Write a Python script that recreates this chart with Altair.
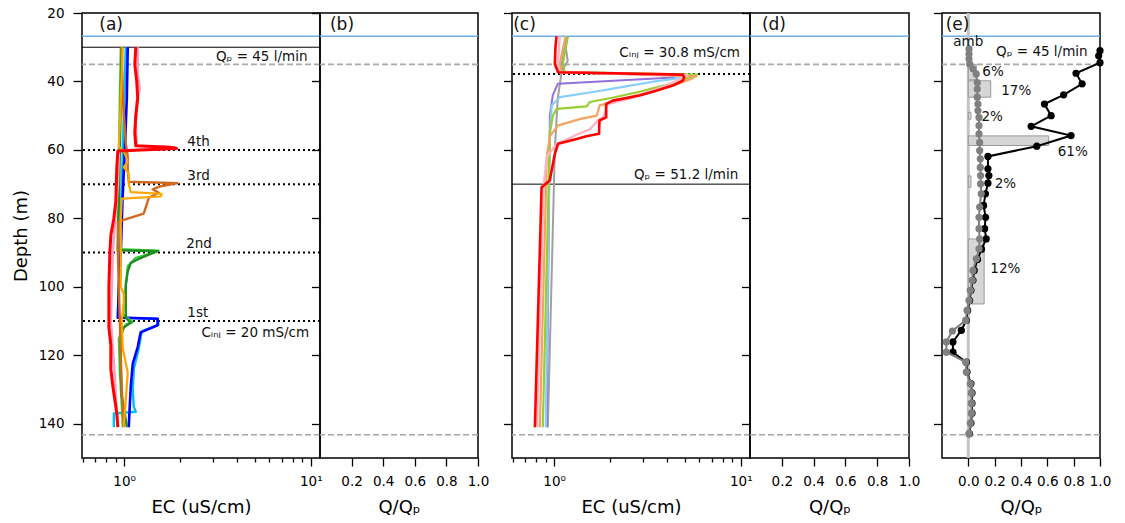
import altair as alt
import pandas as pd

FONT = "DejaVu Sans"

# ---------------- axis ticks ----------------
depth_ticks = [20, 40, 60, 80, 100, 120, 140]
ec_ticks = [0.6, 0.7, 0.8, 0.9, 1, 2, 3, 4, 5, 6, 7, 8, 9, 10]
q_ticks_bd = [0.2, 0.4, 0.6, 0.8, 1.0]
q_ticks_e = [0.0, 0.2, 0.4, 0.6, 0.8, 1.0]

# ---------------- reference depths (m) ----------------
water_table = [26.8]
casing_depths = [35.0, 143.2]
pump_depth_a = [30.0]
pump_depth_c = [70.0]
inj_depths_a = [60, 70, 90, 110]
inj_depth_c = [37.8]

# ---------------- panel (a) EC profiles ----------------
a_dsb_depth = [30, 60, 90, 109, 109.3, 111, 113, 118, 124, 130, 135, 136.5, 137, 141]
a_dsb_ec = [1.021, 0.984, 0.949, 0.926, 1.512, 1.531, 1.243, 1.198, 1.127, 1.113, 1.127, 1.155, 0.881, 0.881]

a_blue_depth = [30, 45, 60, 75, 90, 100, 109, 109.3, 111.2, 113.3, 117.6, 122.4, 129, 135, 141]
a_blue_ec = [1.046, 1.034, 1.009, 0.980, 0.960, 0.937, 0.926, 1.512, 1.512, 1.227, 1.183, 1.113, 1.086, 1.072, 1.059]

a_lime_depth = [30, 60, 89, 89.4, 90.3, 91.5, 94, 100, 108, 110.3, 111, 115, 125, 135, 141]
a_lime_ec = [0.960, 0.937, 0.926, 1.531, 1.388, 1.155, 1.046, 1.021, 0.984, 1.113, 1.021, 0.937, 0.949, 0.972, 0.984]

a_green_depth = [30, 60, 75, 89.3, 89.6, 90.6, 92, 93, 95.5, 99.4, 109, 110.5, 112, 116, 125, 132, 137, 141]
a_green_ec = [0.972, 0.949, 0.937, 0.926, 1.512, 1.355, 1.183, 1.086, 1.046, 1.021, 1.021, 1.086, 0.984, 0.960, 0.960, 0.972, 1.009, 1.034]

a_choc_depth = [30, 45, 58, 62, 66, 69.3, 69.7, 70.6, 71.5, 72.5, 74, 75, 78.6, 80.1, 81, 90, 100, 110, 120, 130, 141]
a_choc_ec = [0.972, 0.984, 1.021, 1.046, 1.046, 1.059, 1.934, 1.570, 1.423, 1.531, 1.355, 1.338, 1.273, 1.046, 0.926, 0.926, 0.937, 0.949, 0.960, 0.972, 0.996]

a_orange_depth = [30, 45, 59, 61, 63.5, 65, 67, 70, 72.3, 72.8, 73.6, 74.2, 80, 90, 100, 102, 105, 110, 118, 125, 133, 141]
a_orange_ec = [0.984, 0.960, 0.937, 1.009, 1.046, 0.996, 1.059, 1.059, 1.086, 1.589, 1.570, 0.972, 0.960, 0.960, 0.960, 0.996, 0.996, 0.972, 0.984, 1.046, 1.021, 0.996]

a_pink_depth = [30, 38, 42, 46, 52, 58.8, 59.3, 60.3, 70, 90, 110, 118, 122, 126, 132, 141]
a_pink_ec = [1.183, 1.183, 1.213, 1.169, 1.155, 1.169, 1.82, 0.937, 0.926, 0.870, 0.849, 0.870, 0.881, 0.892, 0.903, 0.926]

a_red_depth = [30, 35, 40, 45, 50, 55, 58.8, 59.2, 59.6, 60.3, 65, 75, 80, 85, 90, 100, 112, 117, 124, 129, 133, 137, 141]
a_red_ec = [1.155, 1.141, 1.169, 1.183, 1.155, 1.141, 1.155, 1.775, 1.91, 0.926, 0.914, 0.903, 0.881, 0.849, 0.839, 0.829, 0.829, 0.849, 0.849, 0.870, 0.892, 0.914, 0.926]

# ---------------- panel (c) EC profiles ----------------
c_gray_depth = [26.8, 30, 34, 37, 45, 60, 141]
c_gray_ec = [1.183, 1.154, 1.183, 1.099, 1.046, 1.009, 0.926]

c_purple_depth = [26.8, 34.9, 37.3, 38.2, 38.9, 40.7, 44, 50, 141]
c_purple_ec = [1.169, 1.086, 1.113, 4.86, 4.14, 1.046, 0.984, 0.949, 0.914]

c_sky_depth = [26.8, 34.9, 37.3, 38.3, 39, 40, 41.5, 43, 44.6, 47, 55, 141]
c_sky_ec = [1.154, 1.073, 1.099, 5.05, 4.69, 3.447, 2.384, 1.649, 1.073, 0.972, 0.949, 0.903]

c_ygreen_depth = [26.8, 34.9, 37.3, 38.0, 38.8, 40.2, 41.5, 43, 44.6, 46, 47.3, 48, 50, 55, 141]
c_ygreen_ec = [1.183, 1.113, 1.141, 5.85, 5.30, 4.69, 3.665, 2.867, 2.108, 1.551, 1.495, 1.034, 0.984, 0.949, 0.870]

c_sandy_depth = [26.8, 34.9, 37.3, 38.5, 39.5, 41, 43, 45, 47, 50, 51, 52.9, 56, 62, 141]
c_sandy_ec = [1.154, 1.073, 1.099, 5.77, 5.30, 4.41, 3.24, 2.384, 1.753, 1.69, 1.371, 1.046, 0.949, 0.914, 0.839]

c_pink_depth = [26.8, 34.9, 37.3, 38.2, 39, 41, 43, 45, 46.6, 50.3, 51.5, 54, 55.5, 57, 58.2, 62, 70, 141]
c_pink_ec = [1.073, 1.046, 1.073, 5.17, 4.86, 4.04, 3.24, 2.535, 1.932, 1.842, 1.711, 1.551, 1.321, 1.169, 1.034, 0.914, 0.881, 0.809]

c_red_depth = [26.8, 30, 34.9, 37.3, 38.0, 38.8, 39.8, 41.2, 42.7, 44.1, 45.6, 46.6, 50.5, 51.4, 55.3, 56.0, 56.8, 58.2, 61.2, 68.9, 70.9, 141]
c_red_ec = [1.030, 1.017, 1.009, 1.05, 4.88, 4.98, 4.88, 4.32, 3.52, 2.87, 2.06, 1.90, 1.90, 1.75, 1.74, 1.49, 1.32, 1.05, 1.009, 0.948, 0.857, 0.789]

# ---------------- panel (e) flow profiles ----------------
e_bar_top = [35.0, 39.8, 49.0, 55.9, 67.6, 86.0]
e_bar_bottom = [39.5, 44.6, 51.0, 58.7, 70.9, 105.0]
e_bar_q = [0.06, 0.17, 0.02, 0.61, 0.02, 0.12]

e_pct_text = ["6%", "17%", "2%", "61%", "2%", "12%"]
e_pct_q = [0.106, 0.25, 0.10, 0.679, 0.20, 0.167]
e_pct_depth = [37.3, 42.7, 50.4, 60.7, 69.9, 94.7]

e_amb_depth = [30.5, 32.0, 33.4, 34.9, 36.3, 37.8, 40.3, 42.2, 44.6, 46.6, 48.5, 50.5, 52.9, 55.3, 57.8,
               60.2, 62.6, 65.1, 67.5, 69.9, 72.8, 76.7, 79.7, 83.0, 86.0, 88.9, 91.8, 95.2, 98.1, 101.0,
               104.0, 106.9, 109.8, 112.9, 116.1, 119.1, 122.0, 124.9, 128.3, 131.0, 134.0, 136.9, 139.8, 142.9]
e_amb_q = [0.005, 0.005, 0.005, 0.01, 0.035, 0.06, 0.068, 0.068, 0.068, 0.073, 0.073, 0.081, 0.081, 0.081, 0.086,
           0.086, 0.091, 0.091, 0.093, 0.093, 0.098, 0.086, 0.081, 0.081, 0.086, 0.081, 0.061, 0.035, 0.030, 0.015,
           0.005, -0.010, -0.020, -0.121, -0.167, -0.167, -0.020, -0.015, 0.015, 0.023, 0.023, 0.023, 0.015, 0.005]

e_pump_depth = [31.0, 32.5, 34.5, 37.6, 40.7, 43.9, 46.6, 50.0, 53.1, 55.8, 58.9, 61.9, 65.5, 67.5, 69.7, 72.8,
                76.2, 79.7, 83.0, 86.0, 89.0, 92.0, 95.2, 98.1, 101.0, 104.0, 106.9, 109.8, 112.7, 116.1, 119.1,
                122.0, 124.9, 128.3, 131.0, 134.0, 136.9, 139.8, 142.9]
e_pump_q = [1.0, 0.99, 1.0, 0.818, 0.864, 0.724, 0.578, 0.629, 0.477, 0.780, 0.520, 0.149, 0.149, 0.156, 0.149, 0.13,
            0.116, 0.131, 0.124, 0.136, 0.10, 0.07, 0.045, 0.035, 0.02, 0.01, -0.005, -0.015, -0.053, -0.117, -0.117,
            -0.015, -0.01, 0.02, 0.028, 0.028, 0.028, 0.02, 0.008]

# ---------------- annotation texts ----------------
a_text = ["Qₚ = 45 l/min", "4th", "3rd", "2nd", "1st", "Cᵢₙⱼ = 20 mS/cm"]
a_text_ec = [9.6, 2.18, 2.18, 2.15, 2.18, 9.8]
a_text_depth = [32.8, 57.8, 67.5, 87.6, 107.7, 113.5]
a_text_align = ["right", "left", "left", "left", "left", "right"]

c_text = ["Cᵢₙⱼ = 30.8 mS/cm", "Qₚ = 51.2 l/min"]
c_text_ec = [9.9, 9.7]
c_text_depth = [31.8, 67.2]

e_text = ["amb", "Qₚ = 45 l/min"]
e_text_q = [0.0, 0.906]
e_text_depth = [28.6, 31.5]
e_text_align = ["center", "right"]

panel_labels = ["(a)", "(b)", "(c)", "(d)", "(e)"]
panel_label_depth = 23.5
panel_label_x = [0.736, 0.063, 0.604, 0.075, -0.172]

# ---------------- layout ----------------
W_A, W_B, W_C, W_D, W_E = 238, 158, 238, 159, 158
GAP1, GAP2 = 34, 33
H = 445

COMMON = dict(domain=False, grid=False, tickColor="black", tickWidth=1.3,
              labelColor="black", titleColor="black", labelFont=FONT, titleFont=FONT,
              labelFontSize=13.5, titleFontSize=18, titleFontWeight="normal")

ysc = alt.Scale(domain=[20, 150], reverse=True, nice=False, zero=False)
yaxis_main = alt.Axis(values=depth_ticks, title="Depth (m)", tickSize=9, labelPadding=9,
                      titlePadding=8, **COMMON)
yaxis_ticks = alt.Axis(values=depth_ticks, labels=False, title=None, tickSize=8.5, **COMMON)

ec_scale = alt.Scale(type="log", domain=[0.595, 11.2], nice=False)
ec_axis = alt.Axis(values=ec_ticks,
                   labelExpr="datum.value == 1 ? '10⁰' : (datum.value == 10 ? '10¹' : '')",
                   tickSize={"condition": {"test": "datum.value == 1 || datum.value == 10", "value": 8}, "value": 4},
                   labelPadding=8, title="EC (uS/cm)", titlePadding=11, labelFlush=False,
                   labelOverlap=False, **COMMON)

def q_axis(vals):
    return alt.Axis(values=vals, format=".1f", tickSize=8, labelPadding=8, title="Q/Qₚ",
                    titlePadding=11, labelFlush=False, labelOverlap=False, **COMMON)


def Y(axis):
    return alt.Y("depth:Q", scale=ysc, axis=axis)


def hrules(values, color, width, yaxis, dash=None):
    kw = dict(color=color, strokeWidth=width)
    if dash is not None:
        kw["strokeDash"] = dash
    return alt.Chart(pd.DataFrame({"depth": values})).mark_rule(**kw).encode(y=Y(yaxis))


def common_rules(yaxis):
    return [hrules(water_table, "#6aaee6", 1.5, yaxis),
            hrules(casing_depths, "#a8a8a8", 1.6, yaxis, dash=[6, 3])]


def trace(depths, ecs, color, width, xenc, yaxis):
    df = pd.DataFrame({"depth": depths, "ec": ecs, "i": list(range(len(depths)))})
    return alt.Chart(df).mark_line(color=color, strokeWidth=width, strokeJoin="round").encode(
        x=xenc, y=Y(yaxis), order="i:Q")


def texts(txt, xs, depths, aligns, xfield, xenc, yaxis, size=13.5):
    layers = []
    for t, xv, d, al in zip(txt, xs, depths, aligns):
        df = pd.DataFrame({"depth": [d], xfield: [xv], "t": [t]})
        layers.append(alt.Chart(df).mark_text(align=al, baseline="middle", font=FONT,
                                              fontSize=size, color="#111").encode(
            x=xenc, y=Y(yaxis), text="t:N"))
    return layers


# ---------------- panel (a) ----------------
xa = alt.X("ec:Q", scale=ec_scale, axis=ec_axis)
a_layers = common_rules(yaxis_main) + [
    hrules(pump_depth_a, "black", 1.0, yaxis_main),
    hrules(inj_depths_a, "black", 2.0, yaxis_main, dash=[2, 3]),
]
a_traces = [
    (a_dsb_depth, a_dsb_ec, "#00bfff", 2.4),
    (a_blue_depth, a_blue_ec, "#0000ff", 2.6),
    (a_lime_depth, a_lime_ec, "#32cd32", 2.2),
    (a_green_depth, a_green_ec, "#228b22", 2.4),
    (a_choc_depth, a_choc_ec, "#d2691e", 2.4),
    (a_orange_depth, a_orange_ec, "#ffa500", 2.2),
    (a_pink_depth, a_pink_ec, "#f4a3c0", 2.6),
    (a_red_depth, a_red_ec, "#ff0000", 3.0),
]
a_layers += [trace(d, e, c, w, xa, yaxis_main) for d, e, c, w in a_traces]
a_layers += texts(a_text, a_text_ec, a_text_depth, a_text_align, "ec", xa, yaxis_main)
a_layers += texts([panel_labels[0]], [panel_label_x[0]], [panel_label_depth], ["left"], "ec", xa, yaxis_main, 17)
panel_a = alt.layer(*a_layers).properties(width=W_A, height=H)

# ---------------- panel (b) ----------------
xb = alt.X("q:Q", scale=alt.Scale(domain=[0, 1], nice=False, zero=False), axis=q_axis(q_ticks_bd))
b_layers = common_rules(yaxis_ticks)
b_layers += texts([panel_labels[1]], [panel_label_x[1]], [panel_label_depth], ["left"], "q", xb, yaxis_ticks, 17)
panel_b = alt.layer(*b_layers).properties(width=W_B, height=H)

# ---------------- panel (c) ----------------
xc = alt.X("ec:Q", scale=ec_scale, axis=ec_axis)
c_layers = common_rules(yaxis_ticks) + [
    hrules(pump_depth_c, "black", 1.0, yaxis_ticks),
    hrules(inj_depth_c, "black", 2.0, yaxis_ticks, dash=[2, 3]),
]
c_traces = [
    (c_gray_depth, c_gray_ec, "#a0a0a0", 2.0),
    (c_purple_depth, c_purple_ec, "#9370db", 2.0),
    (c_sky_depth, c_sky_ec, "#87cefa", 2.2),
    (c_ygreen_depth, c_ygreen_ec, "#9acd32", 2.2),
    (c_sandy_depth, c_sandy_ec, "#f4a460", 2.2),
    (c_pink_depth, c_pink_ec, "#ffb6c1", 2.4),
    (c_red_depth, c_red_ec, "#ff0000", 2.6),
]
c_layers += [trace(d, e, c, w, xc, yaxis_ticks) for d, e, c, w in c_traces]
c_layers += texts(c_text, c_text_ec, c_text_depth, ["right", "right"], "ec", xc, yaxis_ticks)
c_layers += texts([panel_labels[2]], [panel_label_x[2]], [panel_label_depth], ["left"], "ec", xc, yaxis_ticks, 17)
panel_c = alt.layer(*c_layers).properties(width=W_C, height=H)

# ---------------- panel (d) ----------------
xd = alt.X("q:Q", scale=alt.Scale(domain=[0, 1], nice=False, zero=False), axis=q_axis(q_ticks_bd))
d_layers = common_rules(yaxis_ticks)
d_layers += texts([panel_labels[3]], [panel_label_x[3]], [panel_label_depth], ["left"], "q", xd, yaxis_ticks, 17)
panel_d = alt.layer(*d_layers).properties(width=W_D, height=H)

# ---------------- panel (e) ----------------
xe = alt.X("q:Q", scale=alt.Scale(domain=[-0.2, 1.0], nice=False, zero=False), axis=q_axis(q_ticks_e))
zero_line = alt.Chart(pd.DataFrame({"q": [0.0]})).mark_rule(color="#c4c4c4", strokeWidth=3).encode(x=xe)
bars_df = pd.DataFrame({"q": [0.0] * len(e_bar_q), "q2": e_bar_q, "depth": e_bar_top, "depth2": e_bar_bottom})
bars = alt.Chart(bars_df).mark_rect(fill="#d6d6d6", stroke="#9a9a9a", strokeWidth=1).encode(
    x=xe, x2="q2", y=Y(yaxis_ticks), y2="depth2")
pump_df = pd.DataFrame({"depth": e_pump_depth, "q": e_pump_q, "i": list(range(len(e_pump_q)))})
amb_df = pd.DataFrame({"depth": e_amb_depth, "q": e_amb_q, "i": list(range(len(e_amb_q)))})
pump_line = alt.Chart(pump_df).mark_line(color="black", strokeWidth=2).encode(x=xe, y=Y(yaxis_ticks), order="i:Q")
pump_pts = alt.Chart(pump_df).mark_circle(color="black", size=52, opacity=1).encode(x=xe, y=Y(yaxis_ticks))
amb_line = alt.Chart(amb_df).mark_line(color="#808080", strokeWidth=2).encode(x=xe, y=Y(yaxis_ticks), order="i:Q")
amb_pts = alt.Chart(amb_df).mark_circle(color="#808080", size=52, opacity=1).encode(x=xe, y=Y(yaxis_ticks))
e_layers = common_rules(yaxis_ticks) + [zero_line, bars, pump_line, pump_pts, amb_line, amb_pts]
e_layers += texts(e_pct_text, e_pct_q, e_pct_depth, ["left"] * len(e_pct_text), "q", xe, yaxis_ticks)
e_layers += texts(e_text, e_text_q, e_text_depth, e_text_align, "q", xe, yaxis_ticks)
e_layers += texts([panel_labels[4]], [panel_label_x[4]], [panel_label_depth], ["left"], "q", xe, yaxis_ticks, 17)
panel_e = alt.layer(*e_layers).properties(width=W_E, height=H)


def spacer(w):
    return alt.Chart(pd.DataFrame({"v": [0]})).mark_point(opacity=0).encode(
        x=alt.X("v:Q", axis=None), y=alt.Y("v:Q", axis=None)
    ).properties(width=w, height=H, view=alt.ViewBackground(stroke="transparent"))


chart = alt.hconcat(panel_a, panel_b, spacer(GAP1), panel_c, panel_d, spacer(GAP2), panel_e,
                    spacing=0, bounds="flush").resolve_scale(x="independent", y="independent")
chart = chart.properties(padding={"left": 11, "top": 5, "right": 5, "bottom": 5}).configure(
    background="white").configure_view(stroke="black", strokeWidth=1.5)

chart.save("out.html", embed_options={"renderer": "svg", "actions": False})
